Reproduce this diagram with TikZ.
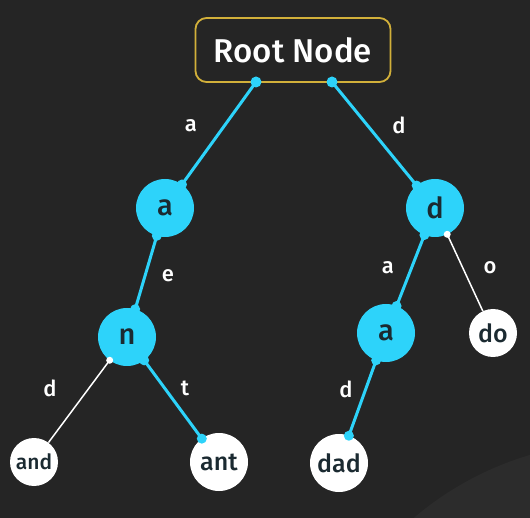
\documentclass[tikz,border=0pt]{standalone}
\usepackage{fontspec}
\setmainfont{Fira Sans}[UprightFont=* Medium]
\usetikzlibrary{calc}
\definecolor{bg}{HTML}{252525}
\definecolor{bgarc}{HTML}{2C2C2C}
\definecolor{cy}{HTML}{2DD3FA}
\definecolor{gold}{HTML}{D2B03A}
\definecolor{ink}{HTML}{1B2A31}
\begin{document}
\begin{tikzpicture}[x=1pt,y=-1pt,
  cynode/.style={circle,fill=cy,inner sep=0pt,minimum size=58pt,text=ink,font=\fontsize{29}{29}\selectfont},
  wnode/.style={circle,fill=white,inner sep=0pt,minimum size=58pt,text=ink,font=\fontsize{25}{25}\selectfont},
  cyedge/.style={draw=cy,line width=3pt},
  wedge/.style={draw=white,line width=1.5pt},
  lbl/.style={text=white,font=\fontsize{22}{22}\selectfont,inner sep=0pt}]
\fill[bg] (0,0) rectangle (530,518);
\useasboundingbox (0,0) rectangle (530,518);
\begin{scope}
\clip (0,0) rectangle (530,518);
\fill[bgarc] (620,760) circle (318);
\end{scope}
% nodes
\node[draw=gold,line width=1.8pt,rounded corners=11pt,minimum width=195pt,minimum height=64pt,fill=bg,text=white,font=\fontsize{33}{33}\selectfont] (root) at (293,50) {Root Node};
\node[cynode] (a1) at (165,208) {a};
\node[cynode] (d1) at (435,208) {d};
\node[cynode] (n) at (127,337) {n};
\node[cynode] (a2) at (386,333) {a};
\node[wnode,minimum size=48pt] (do) at (493,333) {do};
\node[wnode,minimum size=48pt,font=\fontsize{21}{21}\selectfont] (and) at (34,462) {and};
\node[wnode] (ant) at (219,462) {ant};
\node[wnode] (dad) at (339,463) {dad};
\coordinate (r1) at (256,82);
\coordinate (r2) at (332,82);
% edges
\draw[cyedge] (r1) -- (a1);
\draw[cyedge] (r2) -- (d1);
\draw[cyedge] (a1) -- (n);
\draw[cyedge] (n) -- (ant);
\draw[cyedge] (d1) -- (a2);
\draw[cyedge] (a2) -- (dad);
\draw[wedge] (n) -- (and);
\draw[wedge] (d1) -- (do);
% dots
\fill[cy] (r1) circle (5.5);
\fill[cy] (r2) circle (5.5);
\fill[cy] ($(a1.center)!29pt!(r1)$) circle (5);
\fill[cy] ($(d1.center)!29pt!(r2)$) circle (5);
\fill[cy] ($(a1.center)!29pt!(n.center)$) circle (5);
\fill[cy] ($(n.center)!29pt!(a1.center)$) circle (5);
\fill[cy] ($(n.center)!29pt!(ant.center)$) circle (5);
\fill[cy] ($(ant.center)!29pt!(n.center)$) circle (5);
\fill[cy] ($(d1.center)!29pt!(a2.center)$) circle (5);
\fill[cy] ($(a2.center)!29pt!(d1.center)$) circle (5);
\fill[cy] ($(a2.center)!29pt!(dad.center)$) circle (5);
\fill[cy] ($(dad.center)!29pt!(a2.center)$) circle (5);
\fill[white] ($(n.center)!29pt!(and.center)$) circle (3.5);
\fill[white] ($(d1.center)!29pt!(do.center)$) circle (3.5);
% labels
\node[lbl] (la1) at (191,126) {a};
\node[lbl] (ld1) at (399,125) {d};
\node[lbl] (le) at (168,276) {e};
\node[lbl] (ld2) at (50,388) {d};
\node[lbl] (lt) at (185,388) {t};
\node[lbl] (la2) at (388,268) {a};
\node[lbl] (lo) at (490,268) {o};
\node[lbl] (ld3) at (346,389) {d};
\end{tikzpicture}
\end{document}
